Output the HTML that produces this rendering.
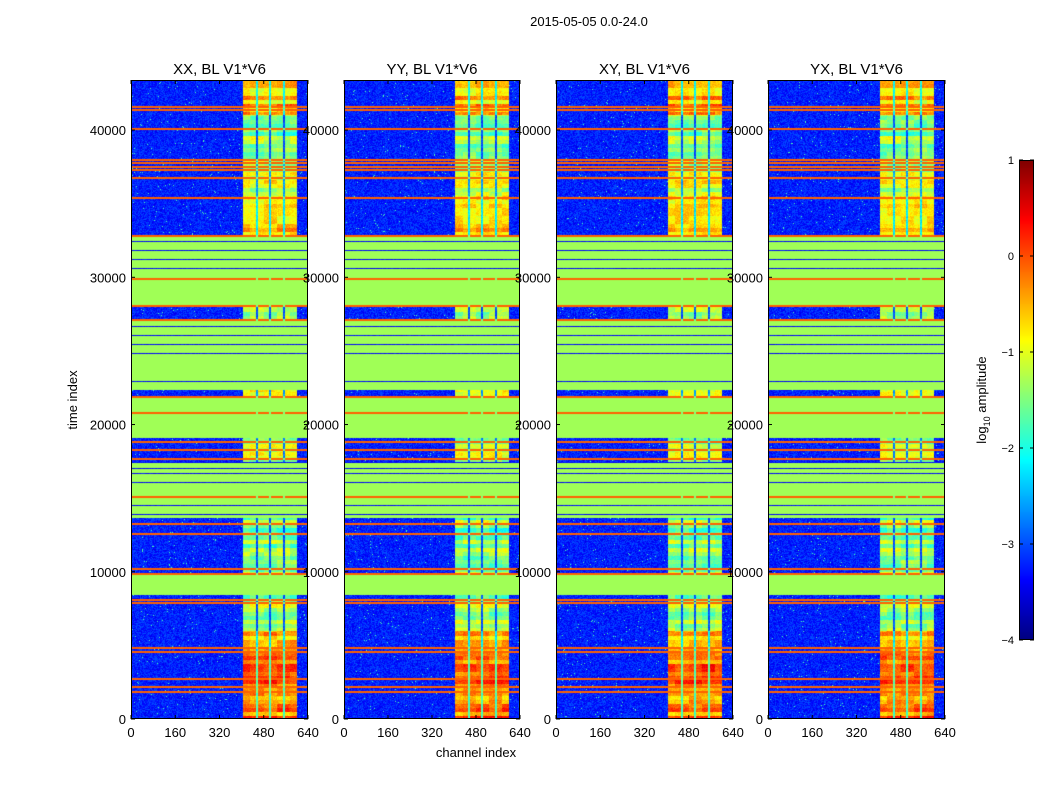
<!DOCTYPE html>
<html><head><meta charset="utf-8"><style>
body{margin:0;background:#fff;font-family:"Liberation Sans",sans-serif}
#wrap{position:relative;width:1050px;height:800px;overflow:hidden}
canvas{position:absolute}
svg{position:absolute;left:0;top:0}
text{font-family:"Liberation Sans",sans-serif}
</style></head><body>
<div id="wrap">
<canvas id="c0" width="177" height="639" style="left:131px;top:80px"></canvas>
<canvas id="c1" width="176" height="639" style="left:344px;top:80px"></canvas>
<canvas id="c2" width="177" height="639" style="left:556px;top:80px"></canvas>
<canvas id="c3" width="177" height="639" style="left:768px;top:80px"></canvas>
<canvas id="cb" width="15" height="480" style="left:1019px;top:160px"></canvas>
<svg id="s" width="1050" height="800"></svg>
</div>
<script>
const panelTitles=["XX, BL V1*V6","YY, BL V1*V6","XY, BL V1*V6","YX, BL V1*V6"];
const xTicks=[0,160,320,480,640];
const yTicks=[0,10000,20000,30000,40000];
const cbTicks=[1,0,-1,-2,-3,-4];
const segStart=[0,1800,4500,6000,8420,9780,13650,17380,19080,21790,22330,27090,27970,32720,35500,38000,41000];
const segEnd=[1800,4500,6000,8420,9780,13650,17380,19080,21790,22330,27090,27970,32720,35500,38000,41000,43400];
const segType=["q","q","q","q","g","q","g","q","g","q","g","q","g","q","q","q","q"];
const segLevel=[-0.4,-0.3,-0.8,-1.6,-1,-1.6,-1,-1.4,-1,-1.2,-1,-1.6,-1,-0.8,-1.2,-1.6,-0.7];
const orangeLines=[41550,41340,40050,37950,37750,37480,37270,36730,35370,32790,29870,28040,27090,21860,20770,18810,18260,17650,15070,13240,12560,10180,9840,8080,7880,4820,4550,2720,2170,1830];
const blueLines=[32380,31770,31160,30550,26610,26000,25390,24780,22880,17380,16970,16630,16020,14460,13850];
const bandLo=405, bandHi=600, gaps=[455,503,553];
const tMax=43400, chMax=640, vMin=-4, vMax=1;
const X0=[131,344,556,768], PW=[177,176,177,177], Y0=80, Y1=719;

function jet(v){let x=(v-vMin)/(vMax-vMin);x=Math.max(0,Math.min(1,x));
 const c=a=>Math.round(255*Math.max(0,Math.min(1,1.5-Math.abs(4*x-a))));return [c(3),c(2),c(1)];}
function hash(a,b){let h=(a*374761393+b*668265263)|0;h=(h^(h>>>13))*1274126177|0;return ((h^(h>>>16))>>>0)/4294967295;}

for(let p=0;p<4;p++){
 const cv=document.getElementById('c'+p),ctx=cv.getContext('2d'),W=cv.width,H=cv.height;
 const img=ctx.createImageData(W,H);
 const rowOf=t=>Math.max(0,Math.min(H-1,Math.round(H-1-t/tMax*H)));
 const oRows=new Set();orangeLines.forEach(t=>{const r=rowOf(t);oRows.add(r);oRows.add(Math.min(H-1,r+1));});
 const bRows=new Set(blueLines.map(rowOf));
 for(let r=0;r<H;r++){
  const t=(H-0.5-r)/H*tMax;
  let k=0;for(let i=0;i<segStart.length;i++)if(t>=segStart[i]&&t<segEnd[i])k=i;
  const isO=oRows.has(r);
  const isB=!isO&&bRows.has(r);
  const rowVar=(hash(r>>2,77)-0.5)*0.9;
  for(let c=0;c<W;c++){
   const ch=(c+0.5)/W*chMax;const n=hash(c+p*1000,r);
   const inBand=ch>=bandLo&&ch<=bandHi;const inGap=gaps.some(g=>Math.abs(g-ch)<4);
   const blk=hash(Math.floor(ch/48)+p*50,r>>3);
   let v;
   if(isO){v=inGap?-1.5:-0.1;}
   else if(isB){v=-3.5+n*0.3;}
   else if(segType[k]==="g"){v=-1;}
   else{
    v=-3.5+n*0.55+(n>0.99?1.2:0);
    if(inBand){v=inGap?segLevel[k]-1.6+n*0.4:segLevel[k]+rowVar+(blk-0.5)*0.5+n*0.35;}
   }
   const col=(segType[k]==="g"&&!isO&&!isB)?[160,255,86]:jet(v);
   const o=(r*W+c)*4;img.data[o]=col[0];img.data[o+1]=col[1];img.data[o+2]=col[2];img.data[o+3]=255;
  }
 }
 ctx.putImageData(img,0,0);
}
{const cv=document.getElementById('cb'),ctx=cv.getContext('2d');
 for(let r=0;r<480;r++){const v=vMax-(r+0.5)/480*(vMax-vMin);const c=jet(v);ctx.fillStyle=`rgb(${c[0]},${c[1]},${c[2]})`;ctx.fillRect(0,r,15,1);}}

const NS='http://www.w3.org/2000/svg',svg=document.getElementById('s');
function mk(tag,attrs,txt){const e=document.createElementNS(NS,tag);for(const k in attrs)e.setAttribute(k,attrs[k]);if(txt!==undefined)e.textContent=txt;svg.appendChild(e);return e;}
const title=mk('text',{x:589,y:26,'text-anchor':'middle','font-size':13},'2015-05-05 0.0-24.0');


const xs=(p,ch)=>X0[p]+ch/chMax*PW[p];
const ys=t=>Y1-t/tMax*(Y1-Y0);
for(let p=0;p<4;p++){
 const fr=mk('rect',{x:X0[p]+0.5,y:Y0+0.5,width:PW[p]-1,height:Y1-Y0-1,fill:'none',stroke:'#000','stroke-width':1});
 
 
 const tt=mk('text',{x:X0[p]+PW[p]/2,y:74,'text-anchor':'middle','font-size':15},panelTitles[p]);
 
 
 xTicks.forEach(v=>{const x=xs(p,v);
  mk('line',{x1:x,x2:x,y1:Y1,y2:Y1-4,stroke:'#000'});mk('line',{x1:x,x2:x,y1:Y0,y2:Y0+4,stroke:'#000'});
  const l=mk('text',{x:x,y:Y1+18,'text-anchor':'middle','font-size':13},String(v));
  
  });
 yTicks.forEach(v=>{const y=ys(v);
  mk('line',{x1:X0[p],x2:X0[p]+4,y1:y,y2:y,stroke:'#000'});mk('line',{x1:X0[p]+PW[p],x2:X0[p]+PW[p]-4,y1:y,y2:y,stroke:'#000'});
  const l=mk('text',{x:X0[p]-5,y:y+5,'text-anchor':'end','font-size':13},String(v));
  
  });
}
const xl=mk('text',{x:476,y:757,'text-anchor':'middle','font-size':13},'channel index');


const yl=mk('text',{x:77,y:400,'text-anchor':'middle','font-size':13,transform:'rotate(-90 77 400)'},'time index');


const cbf=mk('rect',{x:1019.5,y:160.5,width:14,height:479,fill:'none',stroke:'#000'});


cbTicks.forEach(v=>{const y=160+(vMax-v)/(vMax-vMin)*480;
 mk('line',{x1:1019,x2:1023,y1:y,y2:y,stroke:'#000'});mk('line',{x1:1034,x2:1030,y1:y,y2:y,stroke:'#000'});
 const l=mk('text',{x:1014,y:y+4,'text-anchor':'end','font-size':11},v<0?'\u2212'+(-v):String(v));
 
 });
const cl=mk('text',{x:986,y:400,'text-anchor':'middle','font-size':13,transform:'rotate(-90 986 400)'});


cl.innerHTML='log<tspan font-size="9" dy="4">10</tspan><tspan dy="-4"> amplitude</tspan>';
</script>
</body></html>
